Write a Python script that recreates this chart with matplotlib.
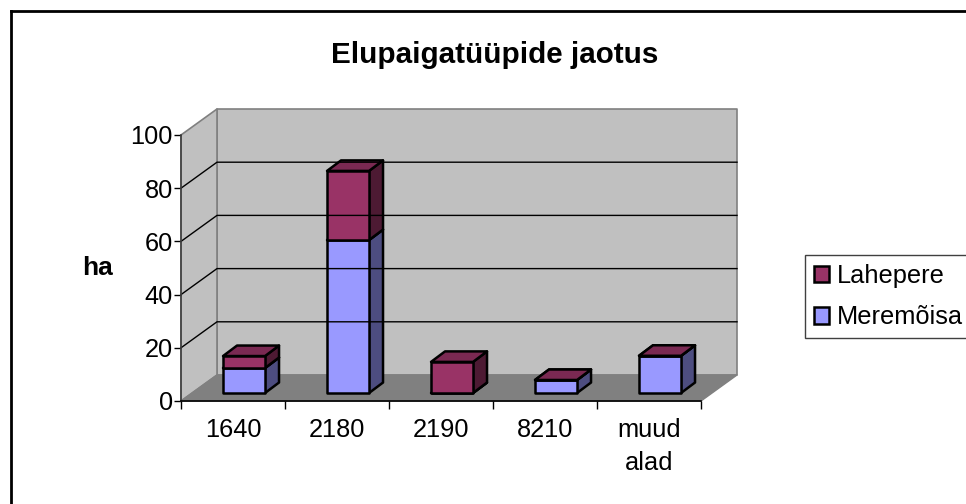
import matplotlib
matplotlib.use('Agg')
import matplotlib.pyplot as plt
from matplotlib.patches import Polygon, Patch
from matplotlib.lines import Line2D

plt.rcParams['font.family'] = ['Liberation Sans', 'DejaVu Sans']

categories = ['1640', '2180', '2190', '8210', 'muud\nalad']
meremoisa = [9.4, 57.5, 0, 4.9, 14]
lahepere = [4.5, 26, 11.7, 0, 0]
y_ticks = [0, 20, 40, 60, 80, 100]

W, H = 966, 504
fig = plt.figure(figsize=(W / 100, H / 100), dpi=100)
ax = fig.add_axes([181 / W, 1 - 401 / H, 520 / W, 266 / H])
ax.set_xlim(0, 5)
ax.set_ylim(0, 100)
ax.patch.set_visible(False)

# depth of the fake 3D box, in data units
dx = 36 / 104
dy = 26 / 2.66
wall_edge = '#808080'


def poly(pts, color, edge='black', lw=1.8):
    ax.add_patch(Polygon(pts, closed=True, facecolor=color, edgecolor=edge,
                         linewidth=lw, joinstyle='round', clip_on=False))


# walls and floor
poly([(dx, dy), (5 + dx, dy), (5 + dx, 100 + dy), (dx, 100 + dy)], '#C0C0C0', wall_edge, 1.2)
poly([(0, 0), (dx, dy), (dx, 100 + dy), (0, 100)], '#C0C0C0', wall_edge, 1.2)
poly([(0, 0), (5, 0), (5 + dx, dy), (dx, dy)], '#808080', wall_edge, 1.0)
for t in y_ticks[1:-1]:
    ax.plot([0, dx, 5 + dx], [t, t + dy, t + dy], color='black', lw=1.0, clip_on=False)


def box(x0, base, height, front, side, top):
    w = 42 / 104
    ox, oy = 0.106, 3.0  # bar front sits a little into the depth
    bx, by = 14 / 104, 10.5 / 2.66
    l, r = x0 + ox, x0 + ox + w
    b, t = base + oy, base + height + oy
    poly([(r, b), (r + bx, b + by), (r + bx, t + by), (r, t)], side)
    poly([(l, t), (r, t), (r + bx, t + by), (l + bx, t + by)], top)
    poly([(l, b), (r, b), (r, t), (l, t)], front)


# Lahepere is stacked last even at zero height, so every bar has its maroon top
for i in range(len(categories)):
    x0 = i + 0.5 - 21 / 104
    box(x0, 0, meremoisa[i], '#9999FF', '#4D4D80', '#7A7ACC')
    box(x0, meremoisa[i], lahepere[i], '#993366', '#4D1A33', '#7A2952')

# axes
for s in ['top', 'right']:
    ax.spines[s].set_visible(False)
ax.spines['left'].set_linewidth(1.2)
ax.spines['left'].set_color('#404040')
ax.spines['bottom'].set_linewidth(1.2)
ax.set_yticks(y_ticks)
ax.set_xticks(range(6))
ax.set_xticklabels([])
ax.set_xticks([i + 0.5 for i in range(5)], minor=True)
ax.set_xticklabels(categories, minor=True, fontsize=18.3, linespacing=1.5, va='top')
ax.tick_params(axis='x', which='minor', length=0, pad=12)
ax.tick_params(axis='x', which='major', length=6, width=1, direction='out')
ax.tick_params(axis='y', length=5, width=1, labelsize=18.3, pad=1)

fig.text(495 / W, 1 - 55 / H, 'Elupaigatüüpide jaotus', fontsize=21.3, fontweight='bold',
         ha='center', va='center')
fig.text(97 / W, 1 - 268 / H, 'ha', fontsize=19, fontweight='bold', ha='center', va='center')

# outer chart border, only the top and left edges fall inside the picture
fig.add_artist(Line2D([11 / W, 11 / W], [0, 1 - 11 / H], color='black', lw=2))
fig.add_artist(Line2D([11 / W, 1], [1 - 11 / H, 1 - 11 / H], color='black', lw=2))

handles = [Patch(facecolor='#993366', edgecolor='black', linewidth=1.8, label='Lahepere'),
           Patch(facecolor='#9999FF', edgecolor='black', linewidth=1.8, label='Meremõisa')]
leg = fig.legend(handles=handles, loc='upper left', bbox_to_anchor=(805 / W, 1 - 255 / H),
                 fontsize=18.3, frameon=True, fancybox=False, framealpha=1, edgecolor='#404040',
                 handlelength=0.6, handleheight=0.6, handletextpad=0.32, labelspacing=0.7,
                 borderpad=0.34, borderaxespad=0)
leg.get_frame().set_linewidth(1.0)

fig.savefig('out.png', dpi=100)
